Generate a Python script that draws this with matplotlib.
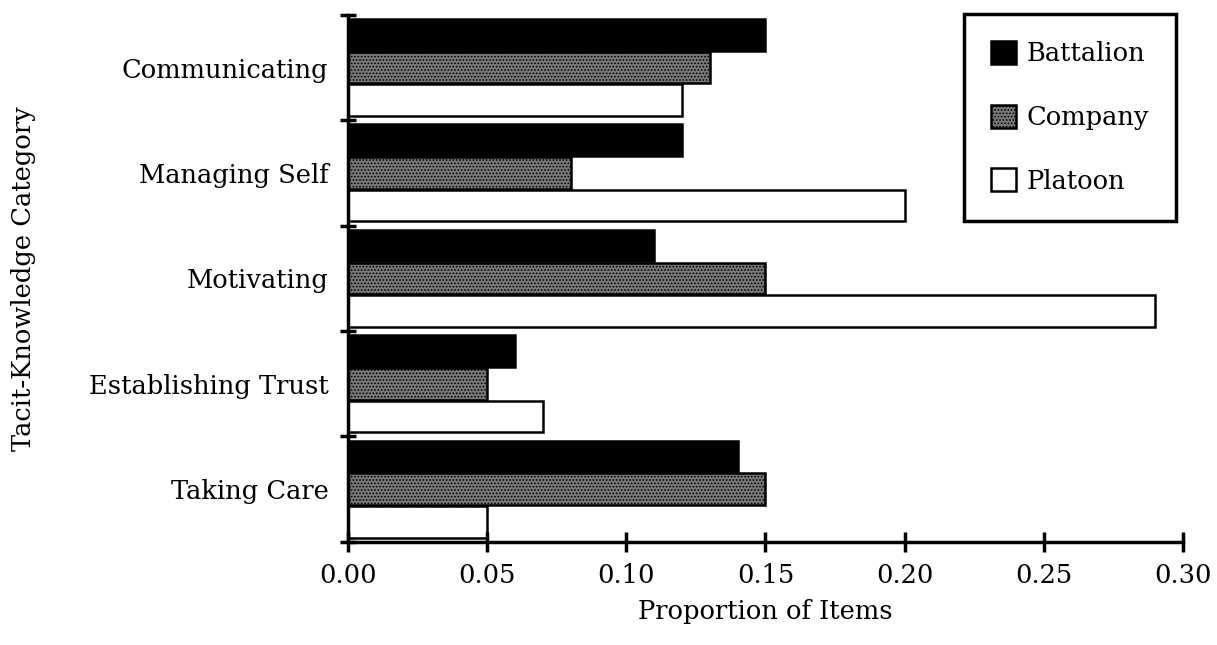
import numpy as np
import matplotlib.pyplot as plt
from matplotlib.ticker import FixedLocator

categories = ['Communicating', 'Managing Self', 'Motivating',
              'Establishing Trust', 'Taking Care']
battalion = [0.15, 0.12, 0.11, 0.06, 0.14]
company = [0.13, 0.08, 0.15, 0.05, 0.15]
platoon = [0.12, 0.20, 0.29, 0.07, 0.05]
xticks = [0.00, 0.05, 0.10, 0.15, 0.20, 0.25, 0.30]

plt.rcParams['font.family'] = ['DejaVu Serif']
plt.rcParams['hatch.linewidth'] = 0.8
plt.rcParams['hatch.color'] = 'white'

fig = plt.figure(figsize=(12.17, 6.45), dpi=100)
ax = fig.add_axes([0.286, 0.160, 0.686, 0.817])

y = np.arange(len(categories))
h = 0.30
ax.barh(y - 0.31, battalion, height=h, color='black', edgecolor='black',
        linewidth=1.8, label='Battalion')
ax.barh(y, company, height=h, color='#7a7a7a', edgecolor='black',
        linewidth=1.8, hatch='.....', label='Company')
ax.barh(y + 0.31, platoon, height=h, color='white', edgecolor='black',
        linewidth=1.8, label='Platoon')

ax.set_ylim(4.5, -0.5)
ax.set_xlim(0, 0.30)
ax.set_yticks(y)
ax.set_yticklabels(categories, fontsize=18.5)
ax.yaxis.set_minor_locator(FixedLocator(np.arange(-0.5, 5, 1)))
ax.tick_params(axis='y', which='major', length=0, pad=14)
ax.tick_params(axis='y', which='minor', length=12, width=2.5, direction='inout')
ax.set_xticks(xticks)
ax.set_xticklabels(['%.2f' % v for v in xticks], fontsize=18.5)
ax.tick_params(axis='x', length=14, width=2.5, direction='inout', pad=8)

for s in ['top', 'right']:
    ax.spines[s].set_visible(False)
for s in ['left', 'bottom']:
    ax.spines[s].set_linewidth(2.5)

ax.set_xlabel('Proportion of Items', fontsize=18.5, labelpad=8)
ax.set_ylabel('Tacit-Knowledge Category', fontsize=18.5, labelpad=38)

leg = ax.legend(loc='upper right', bbox_to_anchor=(0.992, 1.002), fontsize=18.5,
                frameon=True, fancybox=False, edgecolor='black', framealpha=1,
                handlelength=1.0, handleheight=1.0, handletextpad=0.4,
                labelspacing=1.5, borderpad=1.05, borderaxespad=0.0)
leg.get_frame().set_linewidth(2.5)

fig.savefig('out.png', dpi=100)
